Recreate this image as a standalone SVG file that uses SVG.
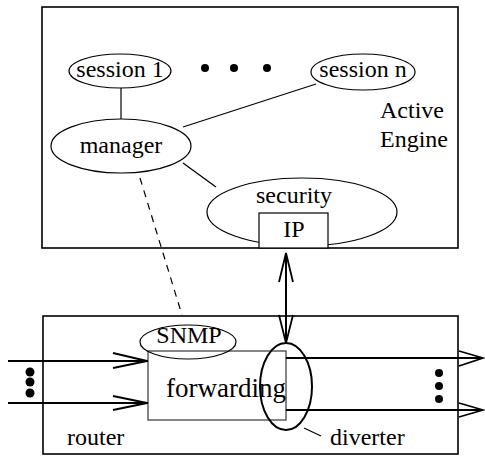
<svg xmlns="http://www.w3.org/2000/svg" width="485" height="456" viewBox="0 0 485 456">
  <style>
    .box { fill: none; stroke: #000; stroke-width: 1.6; }
    .ell { fill: none; stroke: #000; stroke-width: 1.2; }
    .mid { text-anchor: middle; }
    .thin { fill: none; stroke: #000; stroke-width: 1.2; }
    .flow { fill: none; stroke: #000; stroke-width: 2; }
    .head { fill: none; stroke: #000; stroke-width: 1.8; stroke-linejoin: miter; }
  </style>

  <g font-family="Liberation Serif" font-size="24" fill="#000">
    <!-- Active Engine container -->
    <g id="active-engine">
      <rect class="box" x="42" y="7" width="416" height="241"/>
      <text x="380" y="118">Active</text>
      <text x="380" y="147">Engine</text>
    </g>

    <g id="session-1">
      <ellipse class="ell" cx="120" cy="71" rx="51" ry="17"/>
      <text class="mid" x="120" y="77">session 1</text>
    </g>

    <g id="session-dots">
      <circle cx="205" cy="68" r="4"/>
      <circle cx="234" cy="68" r="4"/>
      <circle cx="267" cy="68" r="4"/>
    </g>

    <g id="session-n">
      <ellipse class="ell" cx="363" cy="72" rx="52" ry="18"/>
      <text class="mid" x="363" y="77">session n</text>
    </g>

    <g id="manager">
      <ellipse class="ell" cx="121" cy="146" rx="70" ry="27"/>
      <text class="mid" x="121" y="153">manager</text>
    </g>

    <g id="security">
      <ellipse class="ell" cx="302" cy="212" rx="95" ry="34"/>
      <text class="mid" x="294" y="203">security</text>
    </g>

    <g id="ip">
      <rect x="259" y="213" width="69" height="35" fill="#fff" stroke="#000" stroke-width="1.2"/>
      <text class="mid" x="294" y="237">IP</text>
    </g>

    <!-- Router container -->
    <g id="router">
      <rect class="box" x="43" y="316" width="415" height="138"/>
      <text x="67" y="445">router</text>
    </g>

    <g id="forwarding">
      <rect x="148" y="351" width="138" height="69" fill="none" stroke="#444" stroke-width="1.3"/>
      <text x="166" y="397" font-size="27">forwarding</text>
    </g>

    <g id="snmp">
      <ellipse class="ell" cx="188" cy="342" rx="48" ry="17"/>
      <text class="mid" x="189" y="343">SNMP</text>
    </g>

    <g id="diverter">
      <ellipse cx="286" cy="386.5" rx="26" ry="43.5" fill="none" stroke="#000" stroke-width="2"/>
      <text x="330" y="445">diverter</text>
    </g>

    <g id="in-dots">
      <circle cx="30" cy="372" r="4.5"/>
      <circle cx="30" cy="382" r="4.5"/>
      <circle cx="30" cy="393" r="4.5"/>
    </g>

    <g id="out-dots">
      <circle cx="439" cy="373" r="4"/>
      <circle cx="439" cy="386" r="4"/>
      <circle cx="439" cy="399" r="4"/>
    </g>
  </g>

  <!-- Connectors -->
  <g id="connectors">
    <line class="thin" x1="121" y1="88" x2="121" y2="119"/>
    <line class="thin" x1="316" y1="84" x2="183" y2="127"/>
    <line class="thin" x1="183" y1="163" x2="216" y2="187"/>
    <line class="thin" x1="140" y1="178" x2="182" y2="315" stroke-dasharray="7 6"/>

    <!-- engine <-> diverter -->
    <line class="flow" x1="286" y1="253" x2="286" y2="343"/>
    <polyline class="head" points="279,282 286,253 293,282"/>
    <polyline class="head" points="279,315 286,343 293,315"/>

    <!-- incoming links -->
    <line class="flow" x1="8" y1="361" x2="148" y2="361"/>
    <polyline class="head" points="113,353 147,361 113,368"/>
    <line class="flow" x1="8" y1="403" x2="148" y2="403"/>
    <polyline class="head" points="113,396 147,403 113,410"/>

    <!-- outgoing links -->
    <line class="flow" x1="286" y1="358" x2="483" y2="358"/>
    <polyline class="head" points="459,351 483,358 459,366"/>
    <line class="flow" x1="286" y1="410" x2="483" y2="410"/>
    <polyline class="head" points="459,403 483,410 459,417"/>

    <!-- diverter leader -->
    <line class="thin" x1="304" y1="428" x2="321" y2="436"/>
  </g>
</svg>
